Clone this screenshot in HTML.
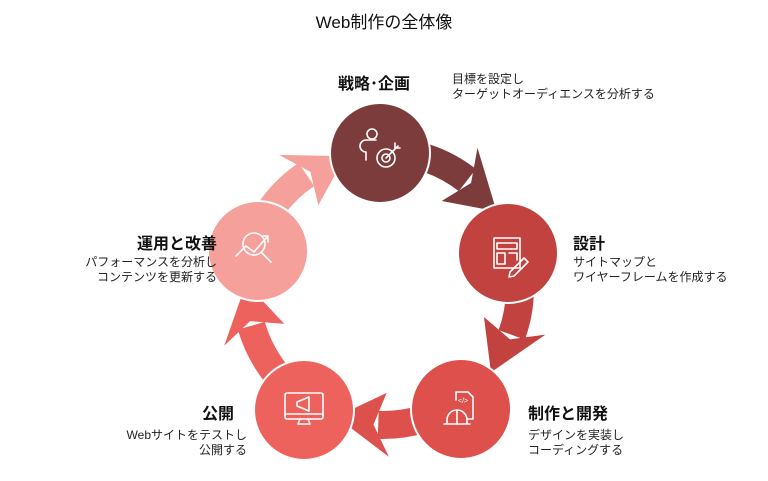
<!DOCTYPE html>
<html><head><meta charset="utf-8"><style>
html,body{margin:0;padding:0;background:#fff;width:768px;height:481px;overflow:hidden}
body{font-family:"Liberation Sans","Noto Sans CJK JP",sans-serif;color:#111;position:relative}
.t{position:absolute;white-space:nowrap}
.h{font-weight:bold;font-size:16px}
.d{font-size:12px;line-height:15px;color:#222}
.r{text-align:right}
</style></head><body>
<svg id="s" width="768" height="481" style="position:absolute;left:0;top:0"></svg>
<div class="t" style="left:0;width:768px;top:8px;text-align:center;font-size:17px">Web制作の全体像</div>
<div class="t h" style="left:338px;top:70px">戦略･企画</div>
<div class="t d" style="left:452px;top:72px">目標を設定し<br>ターゲットオーディエンスを分析する</div>
<div class="t h" style="left:573px;top:230px">設計</div>
<div class="t d" style="left:573px;top:255px">サイトマップと<br>ワイヤーフレームを作成する</div>
<div class="t h" style="left:528px;top:400px">制作と開発</div>
<div class="t d" style="left:528px;top:428px">デザインを実装し<br>コーディングする</div>
<div class="t h r" style="right:534px;top:400px">公開</div>
<div class="t d r" style="right:521px;top:428px">Webサイトをテストし<br>公開する</div>
<div class="t h r" style="right:551px;top:230px">運用と改善</div>
<div class="t d r" style="right:551px;top:255px">パフォーマンスを分析し<br>コンテンツを更新する</div>
<script>
var s=document.getElementById('s'),C=[383,288],R=137;
var cols=['#7d3c3c','#c2423f','#dd504b','#ee625d','#f5a09b'];
var angs=[-90,-18,54,126,198];
var cen=[[380,153],[508,253],[461,409],[304,410],[258,251]];
function p(a,r){a=a*Math.PI/180;return [C[0]+r*Math.cos(a),C[1]+r*Math.sin(a)];}
var h='';
for(var i=0;i<5;i++){
 var a=angs[i],b=a+72,e=b-34;
 var p0=p(a,R),p1=p(e,R);
 h+='<path d="M'+p0[0]+' '+p0[1]+' A'+R+' '+R+' 0 0 1 '+p1[0]+' '+p1[1]+'" fill="none" stroke="'+cols[i]+'" stroke-width="28"/>';
 var t=p(b-16,R),b1=p(b-38,R-32),b2=p(b-38,R+32),n=p(b-32,R);
 h+='<polygon points="'+t+' '+b2+' '+n+' '+b1+'" fill="'+cols[i]+'"/>';
}
for(var i=0;i<5;i++){
 h+='<circle cx="'+cen[i][0]+'" cy="'+cen[i][1]+'" r="50" fill="'+cols[i]+'" stroke="#fff" stroke-width="2"/>';
}
var ic='fill="none" stroke="#fff" stroke-width="1.6" stroke-linecap="round" stroke-linejoin="round"';
h+='<g '+ic+'><circle cx="372" cy="134" r="5"/><path d="M366 160 v-8 a6 6 0 0 1 0 -12 h10"/><circle cx="386" cy="158" r="9"/><circle cx="386" cy="158" r="4"/><path d="M386 158 L398 146 M395 143 v5 h5"/></g>';
h+='<g '+ic+'><rect x="494" y="238" width="26" height="30"/><path d="M497 243 h20 v6 h-20z M497 253 h8 v11 h-8z M509 253 h8 v7"/><path d="M510 272 l14 -14 l4 4 l-14 14 l-5 1z"/></g>';
h+='<g '+ic+'><path d="M456 392 h12 l5 5 v22 h-5"/><path d="M456 392 v8"/><text x="458" y="403" font-size="7" fill="#fff" stroke="none">&lt;/&gt;</text><path d="M444 424 h26 M447 424 v-4 a10 10 0 0 1 20 0 v4 M457 410 v14"/></g>';
h+='<g '+ic+'><rect x="285" y="393" width="38" height="26" rx="2"/><path d="M285 414 h38 M300 419 l-2 5 h12 l-2 -5 M297 402 l12 -5 v14 l-12 -5 z M297 402 v4"/></g>';
h+='<g '+ic+'><circle cx="254" cy="244" r="11"/><path d="M236 256 l10 -10 l8 6 l14 -16 M262 236 h6 v6 M262 253 l9 9"/></g>';
s.innerHTML=h;
</script>
</body></html>
